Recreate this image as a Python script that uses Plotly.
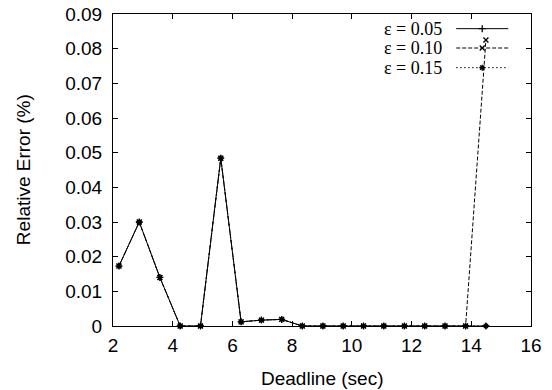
import plotly.graph_objects as go

# ---- data ----
deadline = [2.20, 2.88, 3.57, 4.25, 4.93, 5.61, 6.29, 6.97, 7.65, 8.34,
            9.03, 9.71, 10.39, 11.07, 11.76, 12.44, 13.12, 13.81, 14.49]
err_005 = [0.0173, 0.0300, 0.0140, 0.0, 0.0, 0.0484, 0.0012, 0.0017, 0.0019, 0.0,
           0.0, 0.0, 0.0, 0.0, 0.0, 0.0, 0.0, 0.0, 0.0]
err_010 = [0.0173, 0.0300, 0.0140, 0.0, 0.0, 0.0484, 0.0012, 0.0017, 0.0019, 0.0,
           0.0, 0.0, 0.0, 0.0, 0.0, 0.0, 0.0, 0.0, 0.0825]
err_015 = [0.0173, 0.0300, 0.0140, 0.0, 0.0, 0.0484, 0.0012, 0.0017, 0.0019, 0.0,
           0.0, 0.0, 0.0, 0.0, 0.0, 0.0, 0.0, 0.0, 0.0]
labels = ["ε = 0.05", "ε = 0.10", "ε = 0.15"]
x_ticks = [2, 4, 6, 8, 10, 12, 14, 16]
y_ticks = [0, 0.01, 0.02, 0.03, 0.04, 0.05, 0.06, 0.07, 0.08, 0.09]
y_ticktext = ["0", "0.01", "0.02", "0.03", "0.04", "0.05", "0.06", "0.07", "0.08", "0.09"]
x_title = "Deadline (sec)"
y_title = "Relative Error (%)"

series = [err_005, err_010, err_015]
dashes = ["solid", "4px,2px", "1.5px,2.5px"]
symbols = ["cross-thin-open", "x-thin-open", "asterisk-open"]

SANS = "Liberation Sans, Arial, sans-serif"
SERIF = "Liberation Serif, Times New Roman, serif"

fig = go.Figure()
for ys, d, s, name in zip(series, dashes, symbols, labels):
    fig.add_trace(go.Scatter(
        x=deadline, y=ys, mode="lines+markers", name=name,
        line=dict(color="black", width=1, dash=d),
        marker=dict(symbol=s, size=5, color="black", line=dict(color="black", width=1.3)),
        showlegend=False, cliponaxis=False,
    ))

# manual gnuplot-style legend (samples on an overlay axis in fractions of the plot)
leg_y = [0.953, 0.891, 0.828]
for ys, d, s, name, ly in zip(series, dashes, symbols, labels, leg_y):
    fig.add_trace(go.Scatter(
        x=[0.821, 0.9456], y=[ly, ly], mode="lines",
        line=dict(color="black", width=1, dash=d),
        xaxis="x2", yaxis="y2", showlegend=False, hoverinfo="skip",
    ))
    fig.add_trace(go.Scatter(
        x=[0.8833], y=[ly], mode="markers",
        marker=dict(symbol=s, size=5, color="black", line=dict(color="black", width=1.3)),
        xaxis="x2", yaxis="y2", showlegend=False, hoverinfo="skip",
    ))
    fig.add_annotation(
        x=0.79, y=ly, xref="x2", yref="y2", text=name, showarrow=False,
        xanchor="right", yanchor="middle", borderpad=0,
        font=dict(family=SERIF, size=18, color="black"),
    )

# axis titles
fig.add_annotation(x=0.5, y=-0.167, xref="paper", yref="paper", text=x_title,
                   showarrow=False, xanchor="center", yanchor="middle",
                   font=dict(family=SANS, size=19, color="black"))
fig.add_annotation(x=-0.215, y=0.5, xref="paper", yref="paper", text=y_title,
                   showarrow=False, xanchor="center", yanchor="middle", textangle=-90,
                   font=dict(family=SANS, size=19, color="black"))

axis_common = dict(
    showline=True, linecolor="black", linewidth=1, mirror="ticks",
    ticks="inside", ticklen=5, tickwidth=1, tickcolor="black",
    showgrid=False, zeroline=False, automargin=False,
    tickfont=dict(family=SANS, size=19, color="black"),
)

fig.update_layout(
    width=552, height=390,
    margin=dict(l=113, r=21, t=14, b=64),
    paper_bgcolor="white", plot_bgcolor="white",
    xaxis=dict(range=[2, 16], tickvals=x_ticks, ticktext=[str(t) for t in x_ticks],
               ticklabelstandoff=2, **axis_common),
    yaxis=dict(range=[0, 0.09], tickvals=y_ticks, ticktext=y_ticktext,
               ticklabelstandoff=6, **axis_common),
    xaxis2=dict(range=[0, 1], overlaying="x", visible=False, fixedrange=True),
    yaxis2=dict(range=[0, 1], overlaying="y", visible=False, fixedrange=True),
)

fig.write_html("out.html")
